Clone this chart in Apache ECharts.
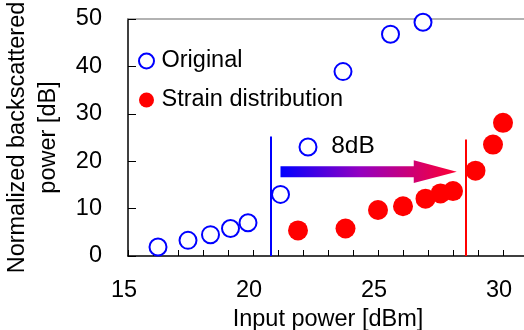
<!DOCTYPE html>
<html>
<head>
<meta charset="utf-8">
<script src="https://cdn.jsdelivr.net/npm/echarts@6/dist/echarts.min.js"></script>
<style>
  html, body { margin: 0; padding: 0; background: #fff; }
  #chart { width: 524px; height: 330px; }
</style>
</head>
<body>
<div id="chart"></div>
<script>
// data
var originalData = [
  [16.2, 1.9], [17.4, 3.3], [18.3, 4.5], [19.1, 5.8], [19.8, 7.0],
  [21.1, 13.0], [22.2, 23.0], [23.6, 38.9], [25.5, 46.8], [26.8, 49.3]
];
var strainData = [
  [21.8, 5.4], [23.7, 5.8], [25.0, 9.7], [26.0, 10.5], [26.9, 12.1],
  [27.5, 13.2], [28.0, 13.7], [28.9, 18.0], [29.6, 23.5], [30.0, 28.1]
];
var blueLine = [20.7, 0, 25.2];   // x, y from, y to
var redLine = [28.5, 0, 24.6];
// arrow: x start, y, x end, label x, label y
var arrowData = [[21.1, 17.8, 28.15, 24.0, 23.2]];
var arrowLabel = '8dB';
var xTicks = [15, 20, 25, 30];

var FONT = '"Liberation Sans", Arial, sans-serif';
var FS = 23.5;
var chart = echarts.init(document.getElementById('chart'));

var option = {
  animation: false,
  grid: { left: 128, right: -4, top: 19, bottom: 74, outerBoundsMode: 'none', containLabel: false },
  legend: {
    orient: 'vertical',
    left: 138,
    top: 49,
    padding: 0,
    itemWidth: 20,
    itemHeight: 15,
    itemGap: 15,
    textStyle: { fontSize: FS, fontFamily: FONT, color: '#000', lineHeight: 24 },
    data: [
      { name: 'Original', icon: 'circle',
        itemStyle: { color: '#fff', borderColor: '#0000ff', borderWidth: 2, opacity: 1 } },
      { name: 'Strain distribution', icon: 'circle',
        itemStyle: { color: '#ff0000', borderWidth: 0, opacity: 1 } }
    ]
  },
  xAxis: [{
    type: 'value',
    min: 15, max: 31, interval: 1,
    name: 'Input power [dBm]',
    nameLocation: 'middle',
    nameGap: 52,
    nameTextStyle: { fontSize: FS, fontFamily: FONT, color: '#000' },
    axisLine: { lineStyle: { color: '#000', width: 1.5 } },
    axisTick: { inside: true, length: 6, lineStyle: { color: '#000' } },
    axisLabel: {
      fontSize: FS, fontFamily: FONT, color: '#000', margin: 23,
      padding: [0, 8, 0, 0],
      formatter: function (v) { return xTicks.indexOf(v) >= 0 ? String(v) : ''; }
    },
    splitLine: { show: false }
  }, {
    type: 'value',
    position: 'top',
    min: 15, max: 31,
    axisLine: { show: true, onZero: false, lineStyle: { color: '#999', width: 1.5 } },
    axisTick: { show: false },
    axisLabel: { show: false },
    splitLine: { show: false }
  }],
  yAxis: {
    type: 'value',
    min: 0, max: 50, interval: 10,
    name: 'Normalized backscattered\npower [dB]',
    nameLocation: 'middle',
    nameRotate: 90,
    nameGap: 64,
    nameTextStyle: { fontSize: FS, fontFamily: FONT, color: '#000', lineHeight: 31 },
    axisLine: { show: true, lineStyle: { color: '#000', width: 1.5 } },
    axisTick: { inside: true, length: 8, lineStyle: { color: '#000' } },
    axisLabel: { fontSize: FS, fontFamily: FONT, color: '#000', margin: 26 },
    splitLine: { show: false }
  },
  series: [
    {
      name: 'Original',
      type: 'scatter',
      symbol: 'circle',
      symbolSize: 17,
      data: originalData,
      itemStyle: { color: '#fff', borderColor: '#0000ff', borderWidth: 2, opacity: 1 },
      z: 3,
      markLine: {
        silent: true,
        symbol: 'none',
        label: { show: false },
        lineStyle: { color: '#0000ff', width: 2, type: 'solid', opacity: 1 },
        data: [[{ coord: [blueLine[0], blueLine[1]] }, { coord: [blueLine[0], blueLine[2]] }]]
      }
    },
    {
      name: 'Strain distribution',
      type: 'scatter',
      symbol: 'circle',
      symbolSize: 20,
      data: strainData,
      itemStyle: { color: '#ff0000', opacity: 1 },
      z: 3,
      markLine: {
        silent: true,
        symbol: 'none',
        label: { show: false },
        lineStyle: { color: '#ff0000', width: 2, type: 'solid', opacity: 1 },
        data: [[{ coord: [redLine[0], redLine[1]] }, { coord: [redLine[0], redLine[2]] }]]
      }
    },
    {
      name: 'arrow',
      type: 'custom',
      silent: true,
      z: 2,
      encode: { x: [0, 2, 3], y: [1, 4] },
      data: arrowData,
      renderItem: function (params, api) {
        var s = api.coord([api.value(0), api.value(1)]);
        var e = api.coord([api.value(2), api.value(1)]);
        var t = api.coord([api.value(3), api.value(4)]);
        var hw = 5.5, hh = 11.3, hl = 43;
        return {
          type: 'group',
          children: [{
            type: 'polygon',
            shape: {
              points: [
                [s[0], s[1] - hw], [e[0] - hl, s[1] - hw], [e[0] - hl, s[1] - hh],
                [e[0], s[1]], [e[0] - hl, s[1] + hh], [e[0] - hl, s[1] + hw],
                [s[0], s[1] + hw]
              ]
            },
            style: {
              fill: new echarts.graphic.LinearGradient(0, 0, 1, 0, [
                { offset: 0, color: '#0000ff' },
                { offset: 0.45, color: '#9400c0' },
                { offset: 1, color: '#ff0033' }
              ])
            }
          }, {
            type: 'text',
            x: t[0], y: t[1],
            style: {
              text: arrowLabel,
              fontSize: 24.5, fontFamily: FONT, fill: '#000',
              align: 'center', verticalAlign: 'middle'
            }
          }]
        };
      }
    }
  ]
};

chart.setOption(option);
</script>
</body>
</html>
